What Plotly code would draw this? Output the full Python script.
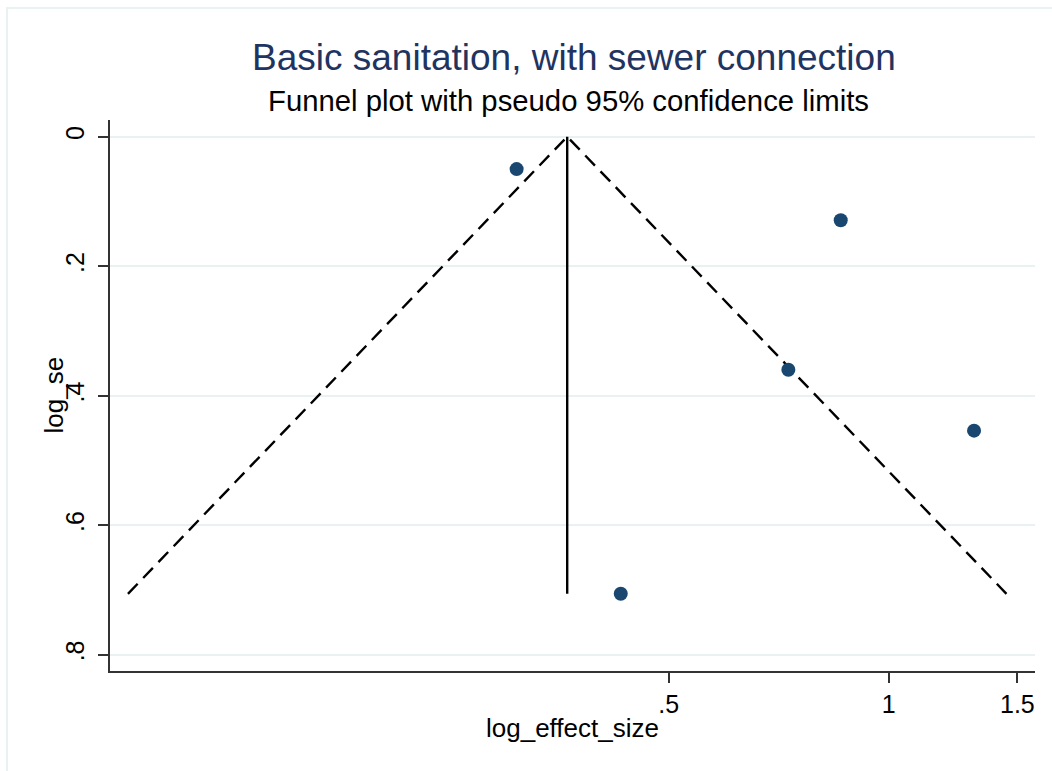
import numpy as np
import plotly.graph_objects as go

# ---- data ----
log_effect_size = [-1.172, -0.844, -0.151, -0.316, 0.269]
log_se = [0.050, 0.706, 0.129, 0.360, 0.454]

x_tick_labels = [".5", "1", "1.5"]
x_tick_values = [0.5, 1.0, 1.5]
y_tick_values = [0.0, 0.2, 0.4, 0.6, 0.8]
y_tick_labels = ["0", ".2", ".4", ".6", ".8"]

title_text = "Basic sanitation, with sewer connection"
subtitle_text = "Funnel plot with pseudo 95% confidence limits"
x_title = "log_effect_size"
y_title = "log_se"

# ---- funnel from the data (fixed-effect pooled estimate) ----
es = np.array(log_effect_size)
se = np.array(log_se)
w = 1.0 / se**2
theta = float(np.sum(w * es) / np.sum(w))
se_max = float(se.max())

FONT = "Arial, Liberation Sans, Helvetica, sans-serif"
NAVY = "#1a476f"
GRID = "#e9f1f3"

fig = go.Figure()

fig.add_trace(go.Scatter(
    x=[theta - 1.96 * se_max, theta, theta + 1.96 * se_max],
    y=[se_max, 0, se_max],
    mode="lines",
    line=dict(color="black", width=2.4, dash="14px,8px"),
    hoverinfo="skip", showlegend=False,
))
fig.add_trace(go.Scatter(
    x=[theta, theta], y=[0, se_max],
    mode="lines", line=dict(color="black", width=2.4),
    hoverinfo="skip", showlegend=False,
))
fig.add_trace(go.Scatter(
    x=log_effect_size, y=log_se, mode="markers",
    marker=dict(color=NAVY, size=14, line=dict(width=0)),
    showlegend=False,
))

axis_common = dict(
    showline=True, linecolor="#333333", linewidth=1.5,
    ticks="outside", ticklen=10, tickwidth=1.5, tickcolor="#333333",
    tickfont=dict(family=FONT, size=25, color="black"),
    zeroline=False,
)

fig.update_xaxes(
    **axis_common,
    range=[-2.453, 0.461],
    tickvals=list(np.log(x_tick_values)), ticktext=x_tick_labels,
    showgrid=False,
)
fig.update_yaxes(
    **axis_common,
    range=[0.8252, -0.0258],
    tickvals=y_tick_values, ticktext=y_tick_labels,
    tickangle=-90,
    showgrid=True, gridcolor=GRID, gridwidth=2,
    ticklabelstandoff=4,
)

fig.add_annotation(text=title_text, xref="paper", yref="paper", x=0.502, y=1.114,
                   xanchor="center", yanchor="middle", showarrow=False,
                   font=dict(family=FONT, size=37, color="#1f3461"))
fig.add_annotation(text=subtitle_text, xref="paper", yref="paper", x=0.496, y=1.035,
                   xanchor="center", yanchor="middle", showarrow=False,
                   font=dict(family=FONT, size=29.3, color="black"))
fig.add_annotation(text=x_title, xref="paper", yref="paper", x=0.5, y=-0.1034,
                   xanchor="center", yanchor="middle", showarrow=False,
                   font=dict(family=FONT, size=26, color="black"))
fig.add_annotation(text=y_title, xref="paper", yref="paper", x=-0.0616, y=0.5,
                   xanchor="center", yanchor="middle", showarrow=False, textangle=-90,
                   font=dict(family=FONT, size=26, color="black"))

# light outer frame (only top/left visible in reference)
fig.add_shape(type="rect", xref="paper", yref="paper",
              x0=-0.1114, y0=-0.6, x1=1.3, y1=1.2033,
              line=dict(color=GRID, width=2), layer="below")

fig.update_layout(
    width=1052, height=771,
    margin=dict(l=110, r=17, t=120, b=100),
    paper_bgcolor="white", plot_bgcolor="white",
    showlegend=False,
)

fig.write_html("out.html")
